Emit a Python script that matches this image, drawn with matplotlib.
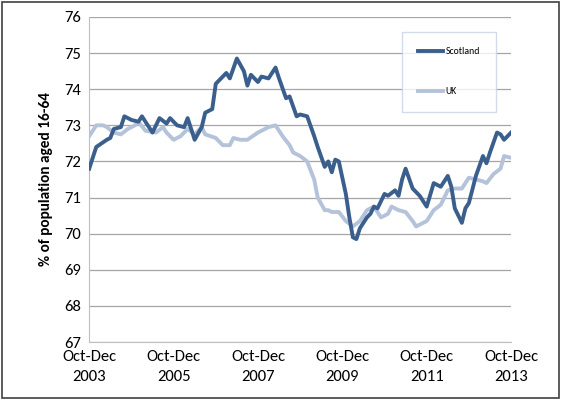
import matplotlib
matplotlib.use("Agg")
import matplotlib.pyplot as plt
from matplotlib.patches import Rectangle

# month index from Oct-Dec 2003 (0) to Oct-Dec 2013 (120)
scot_months = [0, 2, 5, 6, 7, 9, 10, 12, 14, 15, 17, 18, 20, 22, 23, 25, 27, 28, 30, 32,
               33, 35, 36, 37, 39, 40, 42, 44, 45, 46, 48, 49, 51, 53, 54, 56, 57, 59,
               60, 62, 64, 65, 67, 68, 69, 70, 71, 73, 74, 75, 76, 77, 79, 80, 81, 82,
               84, 85, 87, 88, 89, 90, 92, 93, 94, 96, 98, 100, 102, 103, 104, 106, 107,
               108, 110, 112, 113, 114, 116, 117, 118, 120]
scot_vals = [71.8, 72.4, 72.6, 72.65, 72.9, 72.95, 73.25, 73.15, 73.1, 73.25, 72.95, 72.8,
             73.2, 73.05, 73.2, 73.0, 72.95, 73.2, 72.6, 72.95, 73.35, 73.45, 74.15, 74.25,
             74.45, 74.3, 74.85, 74.5, 74.1, 74.4, 74.2, 74.35, 74.3, 74.6, 74.3, 73.75,
             73.8, 73.25, 73.3, 73.25, 72.7, 72.4, 71.85, 72.0, 71.7, 72.05, 72.0, 71.1,
             70.45, 69.9, 69.85, 70.15, 70.45, 70.55, 70.75, 70.7, 71.1, 71.05, 71.2, 71.05,
             71.5, 71.8, 71.25, 71.15, 71.05, 70.75, 71.4, 71.3, 71.6, 71.3, 70.7, 70.3,
             70.7, 70.85, 71.6, 72.15, 71.95, 72.25, 72.8, 72.75, 72.6, 72.8]

uk_months = [0, 2, 4, 5, 7, 9, 11, 13, 14, 16, 19, 21, 22, 24, 26, 28, 30, 32, 33, 36,
             38, 40, 41, 43, 45, 48, 50, 51, 53, 55, 57, 58, 60, 62, 64, 65, 67, 68, 69,
             71, 73, 75, 77, 79, 81, 83, 85, 86, 88, 90, 92, 93, 95, 96, 98, 100, 102,
             104, 106, 108, 110, 112, 113, 115, 117, 118, 120]
uk_vals = [72.7, 73.0, 73.0, 72.95, 72.8, 72.75, 72.9, 73.0, 73.1, 72.85, 72.8, 72.95,
           72.8, 72.6, 72.7, 72.9, 72.75, 72.95, 72.75, 72.65, 72.45, 72.45, 72.65, 72.6,
           72.6, 72.8, 72.9, 72.95, 73.0, 72.7, 72.45, 72.25, 72.15, 72.0, 71.5, 71.0,
           70.65, 70.65, 70.6, 70.6, 70.35, 70.2, 70.35, 70.65, 70.75, 70.45, 70.55, 70.75,
           70.65, 70.6, 70.35, 70.2, 70.3, 70.35, 70.65, 70.8, 71.2, 71.25, 71.25, 71.55,
           71.5, 71.45, 71.4, 71.65, 71.8, 72.15, 72.1]

tick_months = [0, 24, 48, 72, 96, 120]
tick_labels = ["Oct-Dec\n2003", "Oct-Dec\n2005", "Oct-Dec\n2007",
               "Oct-Dec\n2009", "Oct-Dec\n2011", "Oct-Dec\n2013"]

plt.rcParams["font.family"] = ["Carlito", "Liberation Sans", "DejaVu Sans"]

fig = plt.figure(figsize=(5.61, 4.0), dpi=100)
ax = fig.add_axes([0.159, 0.145, 0.752, 0.8125])

ax.plot(uk_months, uk_vals, color="#B4C3DA", lw=2.8, label="UK", zorder=3)
ax.plot(scot_months, scot_vals, color="#3A5F8C", lw=2.8, label="Scotland", zorder=4)

ax.set_xlim(0, 120)
ax.set_ylim(67, 76)
ax.set_yticks(range(67, 77))
ax.set_xticks(tick_months)
ax.set_xticklabels(tick_labels, fontsize=12, linespacing=1.5)
ax.tick_params(axis="y", labelsize=12, length=0, pad=6)
ax.tick_params(axis="x", length=0, pad=6)
ax.grid(axis="y", color="#A6A6A6", lw=0.9)
ax.set_axisbelow(True)
for s in ["top", "right"]:
    ax.spines[s].set_visible(False)
ax.spines["left"].set_color("#BFBFBF")
ax.spines["bottom"].set_color("#BFBFBF")
ax.set_ylabel("% of population aged 16-64", fontsize=11, fontweight="bold", labelpad=8)

handles, labels = ax.get_legend_handles_labels()
leg = ax.legend(handles[::-1], labels[::-1], loc="upper left",
                bbox_to_anchor=(0.73, 0.97), fontsize=7, frameon=True,
                fancybox=False, handlelength=2.6, labelspacing=3.2,
                borderpad=1.6, handletextpad=0.3)
leg.get_frame().set_edgecolor("#C6D3E6")

fig.patches.append(Rectangle((0.003, 0.004), 0.993, 0.99, transform=fig.transFigure,
                             fill=False, edgecolor="#404040", lw=1.2))

fig.savefig("out.png", dpi=100)
